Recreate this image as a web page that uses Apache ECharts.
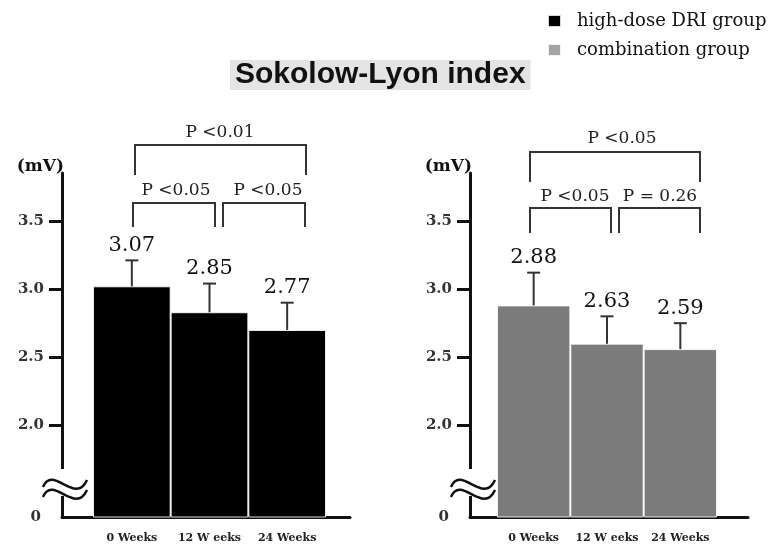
<!DOCTYPE html>
<html><head><meta charset="utf-8">
<script src="https://cdn.jsdelivr.net/npm/echarts@6/dist/echarts.min.js"></script>
<style>html,body{margin:0;padding:0;background:#fff}#c{width:772px;height:544px}</style>
</head><body><div id="c"></div>
<script>
// ---- data ----
const categories = ['0 Weeks', '12 W eeks', '24 Weeks'];
const highDoseMeans = [3.02, 2.83, 2.70];
const highDoseSD = [0.19, 0.21, 0.20];
const highDoseLabels = ['3.07', '2.85', '2.77'];
const comboMeans = [2.88, 2.60, 2.56];
const comboSD = [0.24, 0.20, 0.19];
const comboLabels = ['2.88', '2.63', '2.59'];
const yTicks = [2.0, 2.5, 3.0, 3.5];
const yMin = 1.33, yMax = 3.85;
const seriesNames = ['high-dose DRI group', 'combination group'];

// ---- styles ----
const SERIF = 'DejaVu Serif';
const INK = '#111';

function yAxisFor(grid, offset) {
  return {
    type: 'value', gridIndex: grid, min: yMin, max: yMax, offset: offset, position: 'left',
    name: '(mV)', nameLocation: 'end', nameGap: 6,
    nameTextStyle: { align: 'right', verticalAlign: 'middle', fontFamily: SERIF, fontWeight: 'bold', fontSize: 17, color: INK, padding: [0, -2, 0, 0] },
    axisLine: { show: true, lineStyle: { color: INK, width: 3 } },
    axisTick: { show: true, length: 13, lineStyle: { color: INK, width: 3 }, customValues: yTicks },
    axisLabel: {
      customValues: [yMin].concat(yTicks), margin: 18,
      fontFamily: SERIF, fontWeight: 'bold', fontSize: 15, color: '#333',
      formatter: v => v < 1.9 ? '{z|0}' : v.toFixed(1),
      rich: { z: { fontFamily: SERIF, fontWeight: 'bold', fontSize: 15, color: '#333', padding: [0, 3, 0, 0] } }
    },
    splitLine: { show: false }
  };
}
function catAxisFor(grid) {
  return {
    type: 'category', gridIndex: grid, data: categories,
    axisLine: { show: false }, axisTick: { show: false },
    axisLabel: { interval: 0, margin: 16, fontFamily: SERIF, fontWeight: 'bold', fontSize: 11, color: '#222' }
  };
}
function lineAxisFor(grid) {
  return {
    type: 'value', gridIndex: grid, min: 0, max: 1,
    axisLine: { show: true, lineStyle: { color: INK, width: 3 } },
    axisTick: { show: false }, axisLabel: { show: false }, splitLine: { show: false }
  };
}
function errSeries(idx, means, sds, labels) {
  return {
    type: 'custom', xAxisIndex: idx, yAxisIndex: idx, z: 5, clip: false, silent: true,
    data: means.map((m, i) => [i, m, m + sds[i]]),
    renderItem: (params, api) => {
      const base = api.coord([api.value(0), api.value(1)]);
      const top = api.coord([api.value(0), api.value(2)]);
      const cap = 6.5;
      return {
        type: 'group', children: [
          { type: 'line', shape: { x1: base[0], y1: base[1], x2: top[0], y2: top[1] }, style: { stroke: '#333', lineWidth: 2 } },
          { type: 'line', shape: { x1: top[0] - cap, y1: top[1], x2: top[0] + cap, y2: top[1] }, style: { stroke: '#333', lineWidth: 2 } },
          { type: 'text', x: top[0], y: top[1] - 15, style: { text: labels[params.dataIndex], textAlign: 'center', textVerticalAlign: 'middle', font: '21px "' + SERIF + '"', fill: INK } }
        ]
      };
    }
  };
}
function bracket(x1, x2, yH, yLeg, label, tx, ty) {
  return [
    { type: 'polyline', shape: { points: [[x1, yLeg], [x1, yH], [x2, yH], [x2, yLeg]] }, style: { stroke: '#333', lineWidth: 2, fill: null } },
    { type: 'text', x: tx, y: ty, style: { text: label, textAlign: 'center', textVerticalAlign: 'middle', font: '17px "' + SERIF + '"', fill: '#222' } }
  ];
}
function axisBreak(ax) {
  const w = (dy) => ({ type: 'bezierCurve', shape: { x1: ax - 19, y1: 487 + dy, cpx1: ax - 9, cpy1: 464 + dy, cpx2: ax + 13, cpy2: 506 + dy, x2: ax + 25, y2: 480 + dy }, style: { stroke: INK, lineWidth: 2.5, fill: null } });
  return [
    { type: 'rect', shape: { x: ax - 5, y: 469, width: 10, height: 27 }, style: { fill: '#fff' }, z: 100 },
    Object.assign(w(0), { z: 101 }), Object.assign(w(10), { z: 101 })
  ];
}

const chart = echarts.init(document.getElementById('c'));
chart.setOption({
  backgroundColor: '#fff',
  animation: false,
  title: {
    text: 'Sokolow-Lyon index', left: 230, top: 62, padding: [0, 5, 0, 5], backgroundColor: '#e4e4e4',
    textStyle: { fontFamily: 'Liberation Sans', fontWeight: 'bold', fontSize: 30, color: INK, lineHeight: 26 }
  },
  legend: {
    orient: 'vertical', left: 547, top: 12, padding: 0, itemWidth: 13, itemHeight: 12, itemGap: 11, icon: 'rect', selectedMode: false,
    textStyle: { fontFamily: SERIF, fontSize: 18, color: INK, padding: [0, 0, 0, 11] },
    data: [{ name: seriesNames[0], itemStyle: { color: '#000' } }, { name: seriesNames[1], itemStyle: { color: '#a3a3a3' } }]
  },
  grid: [
    { left: 93, right: 772 - 326, top: 173, bottom: 27, outerBoundsMode: 'none' },
    { left: 497, right: 772 - 717, top: 173, bottom: 27, outerBoundsMode: 'none' },
    { left: 62, right: 772 - 350, top: 173, bottom: 27, outerBoundsMode: 'none' },
    { left: 470, right: 772 - 748, top: 173, bottom: 27, outerBoundsMode: 'none' }
  ],
  xAxis: [catAxisFor(0), catAxisFor(1), lineAxisFor(2), lineAxisFor(3)],
  yAxis: [yAxisFor(0, 31), yAxisFor(1, 27),
    { type: 'value', gridIndex: 2, show: false, min: 0, max: 1 },
    { type: 'value', gridIndex: 3, show: false, min: 0, max: 1 }],
  series: [
    { name: seriesNames[0], type: 'bar', xAxisIndex: 0, yAxisIndex: 0, data: highDoseMeans, barCategoryGap: '0%',
      itemStyle: { color: '#000', borderColor: 'rgba(255,255,255,0.85)', borderWidth: 1 } },
    { name: seriesNames[1], type: 'bar', xAxisIndex: 1, yAxisIndex: 1, data: comboMeans, barCategoryGap: '0%',
      itemStyle: { color: '#7b7b7b', borderColor: 'rgba(255,255,255,0.85)', borderWidth: 1 } },
    errSeries(0, highDoseMeans, highDoseSD, highDoseLabels),
    errSeries(1, comboMeans, comboSD, comboLabels)
  ],
  graphic: [].concat(
    bracket(135, 306, 145, 175, 'P <0.01', 220, 133),
    bracket(133, 215, 203, 227, 'P <0.05', 176, 191),
    bracket(223, 305, 203, 227, 'P <0.05', 268, 191),
    bracket(530, 700, 152, 182, 'P <0.05', 622, 139),
    bracket(530, 611, 208, 233, 'P <0.05', 575, 197),
    bracket(619, 700, 208, 233, 'P = 0.26', 660, 197),
    axisBreak(62), axisBreak(470)
  )
});
</script>
</body></html>
